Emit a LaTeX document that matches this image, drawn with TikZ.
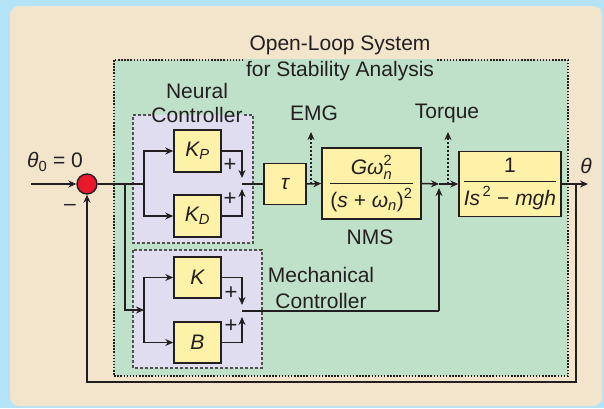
\documentclass[tikz,border=0pt]{standalone}
\usepackage{amsmath}
\usepackage{fontspec}
\setmainfont{Liberation Sans}
\usetikzlibrary{arrows.meta,calc}
\definecolor{bgblue}{HTML}{B4E3F8}
\definecolor{beige}{HTML}{F2E5CC}
\definecolor{greenc}{HTML}{BFE1C9}
\definecolor{lavc}{HTML}{DFDDEF}
\definecolor{yelc}{HTML}{FEF2A8}
\definecolor{redc}{HTML}{E8192C}
\definecolor{linec}{HTML}{231F20}
\definecolor{dashc}{HTML}{505050}
\newcommand\vi[1]{\text{\itshape #1}}
\newcommand\vr[1]{\text{#1}}
\begin{document}
\begin{tikzpicture}[x=1pt,y=-1pt,
  font=\fontsize{21}{25}\selectfont,
  blk/.style={draw=linec, line width=1.5pt, fill=yelc, inner sep=0pt, text=linec},
  sig/.style={line width=1.5pt, draw=linec},
  arr/.style={sig, -{Stealth[length=8pt,width=7pt]}},
  tap/.style={arr, dash pattern=on 2pt off 2pt},
  lbl/.style={text=linec, inner sep=0pt},
  pls/.style={text=linec, inner sep=0pt, font=\fontsize{22}{24}\selectfont},
  ctrl/.style={draw=dashc, line width=1.4pt, dash pattern=on 3pt off 2pt},
]
\useasboundingbox (0,0) rectangle (604,408);
% backgrounds
\fill[bgblue] (0,0) rectangle (604,408);
\fill[beige, rounded corners=9pt] (10,6) rectangle (602,406);
\fill[greenc] (114,60) rectangle (568,376);
\draw[linec, line width=1.6pt, dash pattern=on 1.5pt off 1.6pt] (114,60) rectangle (568,376);
\node[lbl] (t1) at (340,45) {Open-Loop System};
\node[lbl, fill=greenc, inner xsep=3pt, inner ysep=2pt] (t2) at (340,71) {for Stability Analysis};
% controller regions
\fill[lavc] (133,115) rectangle (253,243);
\draw[ctrl] (151,115) -- (133,115) -- (133,243) -- (253,243) -- (253,115) -- (243,115);
\fill[lavc] (133,250) rectangle (262,368);
\draw[ctrl] (133,250) rectangle (262,368);
\node[lbl] (nc1) at (197,91) {Neural};
\node[lbl] (nc2) at (197,115) {Controller};
\node[lbl] (mc1) at (321,275) {Mechanical};
\node[lbl] (mc2) at (321,301) {Controller};
% blocks
\node[blk, minimum width=47pt, minimum height=42pt] (KP) at (197.5,151) {$\vi{K}_{\vi{P}}$};
\node[blk, minimum width=47pt, minimum height=42pt] (KD) at (197.5,216) {$\vi{K}_{\vi{D}}$};
\node[blk, minimum width=47pt, minimum height=41pt] (K) at (197.5,277.5) {$\vi{K}$};
\node[blk, minimum width=47pt, minimum height=41pt] (B) at (197.5,342.5) {$\vi{B}$};
\node[blk, minimum width=42pt, minimum height=41pt] (tau) at (285,184) {$\vi{τ}$};
\node[blk, minimum width=99pt, minimum height=71pt] (NMS) at (371.5,183.5)
  {$\genfrac{}{}{1.2pt}{0}{\vi{Gω}_{\vi{n}}^{\vr{2}}}{\vr{(}\vi{s}\vr{ + }\vi{ω}_{\vi{n}}\vr{)}^{\vr{2}}}$};
\node[blk, minimum width=102pt, minimum height=65pt] (P) at (510,184)
  {$\genfrac{}{}{1.2pt}{0}{\vr{1}}{\vi{Is}^{\,\vr{2}}\vr{ − }\vi{mgh}}$};
\node[lbl] (nms) at (370,237) {NMS};
\node[lbl] (emg) at (314,113) {EMG};
\node[lbl] (torque) at (447,113) {Torque};
% summing junction
\node[circle, draw=linec, line width=1.4pt, fill=redc, minimum size=20pt, inner sep=0pt] (sum) at (87,184) {};
\node[lbl] (th0) at (55,162) {$\vi{θ}_{\vr{0}}\vr{ = 0}$};
\node[lbl] (minus) at (70,207) {–};
\node[lbl] (th) at (586,166) {$\vi{θ}$};
\node[pls] (p1) at (230,165) {+};
\node[pls] (p2) at (230,199) {+};
\node[pls] (p3) at (231,293) {+};
\node[pls] (p4) at (231,326) {+};
% coordinates
\coordinate (in) at (31,184);
\coordinate (brm) at (125,184);
\coordinate (br1) at (144,184);
\coordinate (mb) at (144,310);
\coordinate (sj1a) at (242,178);
\coordinate (sj1b) at (242,189);
\coordinate (sj1) at (242,184);
\coordinate (sj2a) at (242,305);
\coordinate (sj2b) at (242,317);
\coordinate (sj2) at (242,311);
\coordinate (emgt) at (311,184);
\coordinate (emgh) at (311,132);
\coordinate (sj3) at (439,184);
\coordinate (sj3a) at (439,311);
\coordinate (sj3b) at (439,188);
\coordinate (trqt) at (448,184);
\coordinate (trqh) at (448,132);
\coordinate (out) at (588,184);
\coordinate (fb1) at (576,184);
\coordinate (fb2) at (576,382);
\coordinate (fb3) at (87,382);
% connectors
\draw[arr] (in) -- (sum.west);
\draw[sig] (sum.east) -- (br1);
\draw[arr] (br1) |- (KP.west);
\draw[arr] (br1) |- (KD.west);
\draw[arr] (brm) |- (mb);
\draw[arr] (mb) |- (K.west);
\draw[arr] (mb) |- (B.west);
\draw[arr] (KP.east) -| (sj1a);
\draw[arr] (KD.east) -| (sj1b);
\draw[sig] (sj1) -- (tau.west);
\draw[arr] (K.east) -| (sj2a);
\draw[arr] (B.east) -| (sj2b);
\draw[sig] (sj2) -- (sj3a);
\draw[arr] (sj3a) -- (sj3b);
\draw[arr] (tau.east) -- (NMS.west);
\draw[tap] (emgt) -- (emgh);
\draw[arr] (NMS.east) -- (sj3);
\draw[arr] (sj3) -- (P.west);
\draw[tap] (trqt) -- (trqh);
\draw[arr] (P.east) -- (out);
\draw[arr] (fb1) -- (fb2) -- (fb3) -- (sum.south);
\end{tikzpicture}
\end{document}
